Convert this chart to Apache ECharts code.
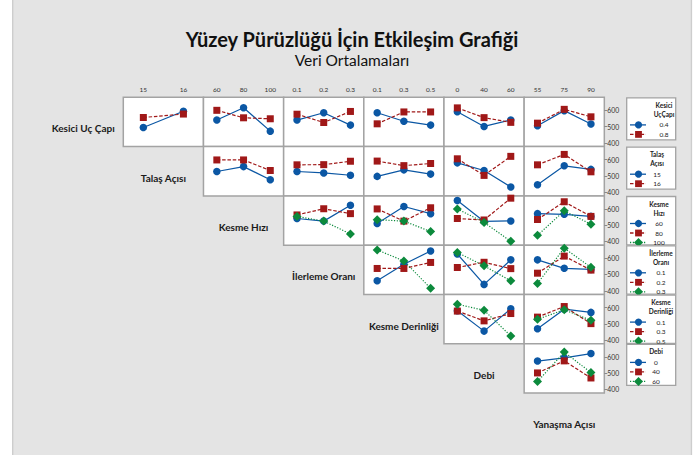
<!DOCTYPE html>
<html>
<head>
<meta charset="utf-8">
<script src="https://cdn.jsdelivr.net/npm/echarts@6/dist/echarts.min.js"></script>
<style>
  html, body { margin: 0; padding: 0; background: #fff; }
  #chart { width: 700px; height: 455px; }
</style>
</head>
<body>
<div id="chart"></div>
<script>
// faktör seviyeleri
const kesiciUcCapi = ["0.4", "0.8"];
const talasAcisi = ["15", "16"];
const kesmeHizi = ["60", "80", "100"];
const ilerlemeOrani = ["0.1", "0.2", "0.3"];
const kesmeDerinligi = ["0.1", "0.3", "0.5"];
const debi = ["0", "40", "60"];
const yanasmaAcisi = ["55", "75", "90"];

const faktorAdlari = ["Kesici Uç Çapı", "Talaş Açısı", "Kesme Hızı", "İlerleme Oranı",
  "Kesme Derinliği", "Debi", "Yanaşma Açısı"];
const lejantBasliklari = [["Kesici", "UçÇapı"], ["Talaş", "Açısı"], ["Kesme", "Hızı"],
  ["İlerleme", "Oranı"], ["Kesme", "Derinliği"], ["Debi"]];

// veri ortalamaları: [sütun][çizgi seviyesi][x seviyesi]
const ortKesici = [
  [[494, 594], [556, 577]],
  [[540, 616, 472], [600, 554, 548]],
  [[540, 585, 509], [576, 525, 593]],
  [[585, 533, 509], [517, 590, 590]],
  [[591, 501, 541], [615, 555, 526]],
  [[505, 598, 516], [521, 606, 560]]
];
const ortTalas = [
  [[527, 557, 476], [598, 598, 533]],
  [[527, 518, 504], [568, 569, 590]],
  [[497, 537, 511], [591, 563, 576]],
  [[580, 533, 432], [605, 503, 620]],
  [[446, 562, 540], [568, 632, 525]]
];
const ortHiz = [
  [[541, 525, 623], [563, 601, 571], [554, 525, 446]],
  [[510, 615, 571], [600, 525, 607], [534, 525, 461]],
  [[652, 523, 526], [541, 532, 666], [600, 517, 401]],
  [[571, 567, 554], [535, 644, 554], [438, 588, 506]]
];
const ortIlerleme = [
  [[461, 563, 644], [537, 537, 574], [651, 583, 415]],
  [[626, 439, 590], [543, 575, 536], [635, 553, 461]],
  [[590, 538, 531], [508, 613, 527], [445, 662, 544]]
];
const ortDerinlik = [
  [[580, 455, 592], [578, 518, 563], [620, 583, 425]],
  [[469, 590, 570], [541, 606, 501], [528, 586, 521]]
];
const ortDebi = [
  [[574, 594, 620], [501, 575, 470], [448, 629, 503]]
];
const yTikleri = [400, 500, 600];

const satirVerileri = [ortKesici, ortTalas, ortHiz, ortIlerleme, ortDerinlik, ortDebi];
const xSeviyeleri = [talasAcisi, kesmeHizi, ilerlemeOrani, kesmeDerinligi, debi, yanasmaAcisi];
const cizgiSeviyeleri = [kesiciUcCapi, talasAcisi, kesmeHizi, ilerlemeOrani, kesmeDerinligi, debi];

const renkler = ["#0b57a4", "#a01818", "#0c8a3c"];
const semboller = ["circle", "rect", "diamond"];
const boyutlar = [7.5, 7, 9];
const cizgiTipleri = ["solid", [3.5, 1.8], [1.2, 1.6]];
const lejantMerkez = [664, 657, 659, 661, 661, 656];

const X0 = 123.3, SW = 80.17, Y0 = 97.3, SH = 49.3;
const font = "Lato";

const grids = [], xAxes = [], yAxes = [], series = [];
satirVerileri.forEach((satir, r) => {
  satir.forEach((panel, i) => {
    const c = r + i;
    const idx = grids.length;
    grids.push({
      left: X0 + c * SW, top: Y0 + r * SH, width: SW, height: SH,
      show: true, backgroundColor: "#fff", borderColor: "#a3a3a3", borderWidth: 1.5
    });
    xAxes.push({
      gridIndex: idx, type: "category", data: xSeviyeleri[c], boundaryGap: true,
      position: "top", show: r === 0,
      axisLine: { show: false },
      axisTick: { alignWithLabel: true, length: 3.5, lineStyle: { color: "#8a8a8a" } },
      axisLabel: { fontSize: 6.5, margin: 4, color: "#333", fontFamily: font },
      splitLine: { show: false }
    });
    yAxes.push({
      gridIndex: idx, type: "value", min: 377, max: 680, position: "right", show: c === 5,
      axisLine: { show: false },
      axisTick: { show: true, customValues: yTikleri, length: 3, lineStyle: { color: "#8a8a8a" } },
      axisLabel: { customValues: yTikleri, fontSize: 6.8, margin: 3, color: "#333", fontFamily: font },
      splitLine: { show: false }
    });
    panel.forEach((degerler, k) => {
      series.push({
        type: "line", xAxisIndex: idx, yAxisIndex: idx, data: degerler,
        symbol: semboller[k], symbolSize: boyutlar[k], showSymbol: true,
        itemStyle: { color: renkler[k] },
        lineStyle: { color: renkler[k], width: 1.2, type: cizgiTipleri[k] },
        silent: true, animation: false, z: 2 + k
      });
    });
  });
});

const elemanlar = [];
// kenar şeritleri
elemanlar.push({ type: "rect", shape: { x: 0, y: 0, width: 12, height: 455 }, style: { fill: "#fff" } });
elemanlar.push({ type: "rect", shape: { x: 12, y: 0, width: 1.4, height: 455 }, style: { fill: "#cdcdcd" } });
elemanlar.push({ type: "rect", shape: { x: 690.8, y: 0, width: 1.4, height: 455 }, style: { fill: "#cdcdcd" } });
elemanlar.push({ type: "rect", shape: { x: 692.2, y: 0, width: 8, height: 455 }, style: { fill: "#fff" } });

// başlık
elemanlar.push({ type: "text", x: 352, y: 38.5, style: { text: "Yüzey Pürüzlüğü İçin Etkileşim Grafiği",
  fontSize: 20, fontWeight: "bold", fontFamily: font, fill: "#111", align: "center", verticalAlign: "middle" } });
elemanlar.push({ type: "text", x: 352, y: 60, style: { text: "Veri Ortalamaları",
  fontSize: 15.5, fontFamily: font, fill: "#111", align: "center", verticalAlign: "middle" } });

// faktör adları
faktorAdlari.forEach((ad, r) => {
  elemanlar.push({ type: "text", x: X0 + (r - 1) * SW + SW / 2, y: Y0 + r * SH + SH / 2 + 6.5,
    style: { text: ad, fontSize: 10, fontWeight: "bold", fontFamily: font, fill: "#1a1a1a",
      align: "center", verticalAlign: "middle" } });
});

// lejantlar
cizgiSeviyeleri.forEach((sev, r) => {
  const lx = 626.7, top = Y0 + r * SH + 0.6;
  const basliklar = lejantBasliklari[r];
  const h = basliklar.length === 1 ? 41 : (sev.length === 3 ? 48.3 : 42);
  const cx = lejantMerkez[r];
  elemanlar.push({ type: "rect", shape: { x: lx, y: top, width: 49, height: h },
    style: { fill: "#fff", stroke: "#a3a3a3", lineWidth: 1.3 } });
  basliklar.forEach((t, j) => {
    elemanlar.push({ type: "text", x: cx, y: top + 7.5 + j * 9,
      style: { text: t, fontSize: 6.5, fontWeight: "bold", fontFamily: font, fill: "#222",
        align: "center", verticalAlign: "middle" } });
  });
  const bas = top + 7.5 + basliklar.length * 9 + 1.5;
  sev.forEach((s, k) => {
    const y = bas + k * 9.5, mx = 638.5;
    elemanlar.push({ type: "line", shape: { x1: 630, y1: y, x2: 646, y2: y },
      style: { stroke: renkler[k], lineWidth: 1.3, lineDash: k === 0 ? null : cizgiTipleri[k] } });
    if (k === 0) {
      elemanlar.push({ type: "circle", shape: { cx: mx, cy: y, r: 3.6 }, style: { fill: renkler[k] } });
    } else if (k === 1) {
      elemanlar.push({ type: "rect", shape: { x: mx - 3.4, y: y - 3.4, width: 6.8, height: 6.8 }, style: { fill: renkler[k] } });
    } else {
      elemanlar.push({ type: "polygon", shape: { points: [[mx, y - 4.5], [mx + 4.5, y], [mx, y + 4.5], [mx - 4.5, y]] },
        style: { fill: renkler[k] } });
    }
    elemanlar.push({ type: "text", x: cx, y: y,
      style: { text: s, fontSize: 6.5, fontFamily: font, fill: "#222", align: "center", verticalAlign: "middle" } });
  });
});

const grafik = echarts.init(document.getElementById("chart"), null, { renderer: "svg" });
grafik.setOption({
  backgroundColor: "#e4e4e4",
  animation: false,
  grid: grids,
  xAxis: xAxes,
  yAxis: yAxes,
  series: series,
  graphic: { elements: elemanlar }
});
</script>
</body>
</html>
